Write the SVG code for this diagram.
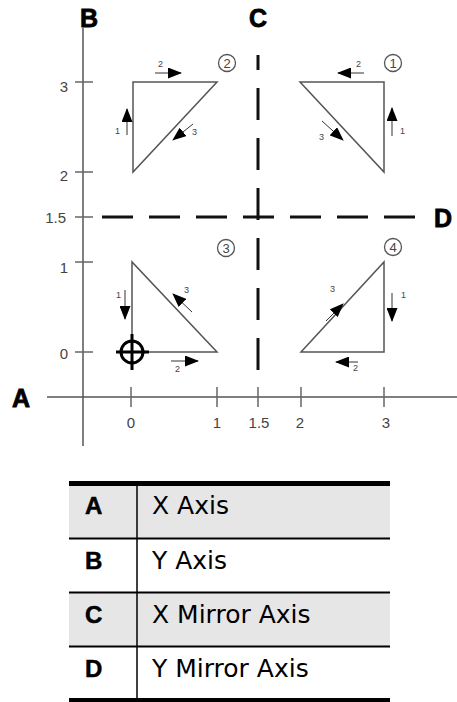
<svg xmlns="http://www.w3.org/2000/svg" width="457" height="702" viewBox="0 0 457 702">
<style>
.ax{stroke:#555;stroke-width:1.5;fill:none}
.tick{stroke:#666;stroke-width:1.5}
.tri{stroke:#555;stroke-width:1.5;fill:none;stroke-linejoin:miter}
.mir{stroke:#111;stroke-width:3;fill:none}
.tl{font-family:"Liberation Sans",Arial,sans-serif;font-size:15px;fill:#444}
.big{font-family:"Liberation Sans",Arial,sans-serif;font-size:25px;font-weight:bold;fill:#000;stroke:#000;stroke-width:0.8}
.arr{stroke:#333;stroke-width:1;fill:none;marker-end:url(#ah)}
.sm{font-family:"Liberation Sans",Arial,sans-serif;font-size:9px;fill:#444}
.cn{stroke:#555;stroke-width:1.3;fill:none}
.cnt{font-family:"Liberation Sans",Arial,sans-serif;font-size:13px;fill:#444;text-anchor:middle}
.key{font-family:"Liberation Sans",Arial,sans-serif;font-size:24px;font-weight:bold;fill:#000;stroke:#000;stroke-width:0.5}
.desc{font-family:"DejaVu Sans",Verdana,sans-serif;font-size:25px;fill:#000}
</style>
<defs>
<marker id="ah" markerUnits="userSpaceOnUse" markerWidth="14" markerHeight="11" viewBox="0 0 14 11" refX="13" refY="5.5" orient="auto">
<path d="M0,0 L14,5.5 L0,11 z" fill="#000"/>
</marker>
</defs>
<rect width="457" height="702" fill="#fff"/>

<g id="axes">
<line class="ax" x1="83" y1="28" x2="83" y2="446"/>
<line class="ax" x1="47" y1="397" x2="457" y2="397"/>
<g class="tick">
<line x1="75" y1="82" x2="93" y2="82"/>
<line x1="75" y1="172" x2="93" y2="172"/>
<line x1="75" y1="217" x2="93" y2="217"/>
<line x1="75" y1="262" x2="93" y2="262"/>
<line x1="75" y1="352" x2="93" y2="352"/>
<line x1="131" y1="387" x2="131" y2="407"/>
<line x1="217" y1="387" x2="217" y2="407"/>
<line x1="258" y1="387" x2="258" y2="407"/>
<line x1="301" y1="387" x2="301" y2="407"/>
<line x1="384" y1="387" x2="384" y2="407"/>
</g>
<g class="tl" text-anchor="end">
<text x="68" y="92">3</text>
<text x="68" y="181">2</text>
<text x="66" y="223">1.5</text>
<text x="68" y="273">1</text>
<text x="68" y="359">0</text>
</g>
<g class="tl" text-anchor="middle">
<text x="131" y="428">0</text>
<text x="217" y="428">1</text>
<text x="259" y="428">1.5</text>
<text x="300" y="428">2</text>
<text x="386" y="428">3</text>
</g>
<text class="big" x="21" y="407" text-anchor="middle">A</text>
<text class="big" x="89" y="27" text-anchor="middle">B</text>
</g>

<g id="mirror-axes">
<line class="mir" x1="258" y1="55" x2="258" y2="372" stroke-dasharray="32 18" stroke-dashoffset="17"/>
<line class="mir" x1="102" y1="217" x2="415" y2="217" stroke-dasharray="31 16"/>
<text class="big" x="258" y="27" text-anchor="middle">C</text>
<text class="big" x="443" y="227" text-anchor="middle">D</text>
</g>

<g id="triangle-1">
<path class="tri" d="M300,82 L384,82 L384,172 Z"/>
<circle class="cn" cx="393" cy="63" r="8.5"/>
<text class="cnt" x="393" y="68">1</text>
<line class="arr" x1="364" y1="73" x2="338" y2="73"/>
<text class="sm" x="356" y="67">2</text>
<line class="arr" x1="392" y1="136" x2="392" y2="108"/>
<text class="sm" x="400" y="134">1</text>
<line class="arr" x1="322" y1="121" x2="343" y2="140"/>
<text class="sm" x="319" y="140">3</text>
</g>

<g id="triangle-2">
<path class="tri" d="M133,172 L133,82 L217,82 Z"/>
<circle class="cn" cx="227" cy="63" r="8.5"/>
<text class="cnt" x="227" y="68">2</text>
<line class="arr" x1="155" y1="73" x2="181" y2="73"/>
<text class="sm" x="158" y="67">2</text>
<line class="arr" x1="127" y1="135" x2="127" y2="109"/>
<text class="sm" x="115" y="134">1</text>
<line class="arr" x1="193" y1="124" x2="173" y2="140"/>
<text class="sm" x="192" y="135">3</text>
</g>

<g id="triangle-3">
<path class="tri" d="M132,262 L132,352 L217,352 Z"/>
<circle class="cn" cx="226" cy="248" r="8.5"/>
<text class="cnt" x="226" y="253">3</text>
<line class="arr" x1="125" y1="290" x2="125" y2="319"/>
<text class="sm" x="116" y="298">1</text>
<line class="arr" x1="171" y1="361" x2="198" y2="361"/>
<text class="sm" x="175" y="372">2</text>
<line class="arr" x1="192" y1="312" x2="173" y2="294"/>
<text class="sm" x="184" y="293">3</text>
<g stroke="#000" stroke-width="3" fill="none">
<circle cx="132" cy="352" r="11"/>
<line x1="116" y1="352" x2="149" y2="352"/>
<line x1="132" y1="334" x2="132" y2="370"/>
</g>
</g>

<g id="triangle-4">
<path class="tri" d="M384,262 L384,352 L301,352 Z"/>
<circle class="cn" cx="393" cy="247" r="8.5"/>
<text class="cnt" x="393" y="252">4</text>
<line class="arr" x1="392" y1="293" x2="392" y2="321"/>
<text class="sm" x="401" y="298">1</text>
<line class="arr" x1="358" y1="362" x2="336" y2="362"/>
<text class="sm" x="353" y="371">2</text>
<line class="arr" x1="326" y1="321" x2="343" y2="304"/>
<text class="sm" x="330" y="292">3</text>
</g>

<g id="legend">
<rect x="69" y="486" width="321" height="52" fill="#e6e6e6"/>
<rect x="69" y="593" width="321" height="53" fill="#e6e6e6"/>
<rect x="69" y="481" width="321" height="5" fill="#000"/>
<rect x="69" y="698" width="321" height="4" fill="#000"/>
<g stroke="#000" stroke-width="2">
<line x1="69" y1="538.5" x2="390" y2="538.5"/>
<line x1="69" y1="592.5" x2="390" y2="592.5"/>
<line x1="69" y1="646.5" x2="390" y2="646.5"/>
<line x1="137" y1="486" x2="137" y2="698" stroke-width="1.5"/>
</g>
<text class="key" x="85" y="514">A</text>
<text class="key" x="85" y="569">B</text>
<text class="key" x="85" y="623">C</text>
<text class="key" x="85" y="677">D</text>
<text class="desc" x="152" y="514">X Axis</text>
<text class="desc" x="152" y="569">Y Axis</text>
<text class="desc" x="152" y="623">X Mirror Axis</text>
<text class="desc" x="152" y="677">Y Mirror Axis</text>
</g>
</svg>
